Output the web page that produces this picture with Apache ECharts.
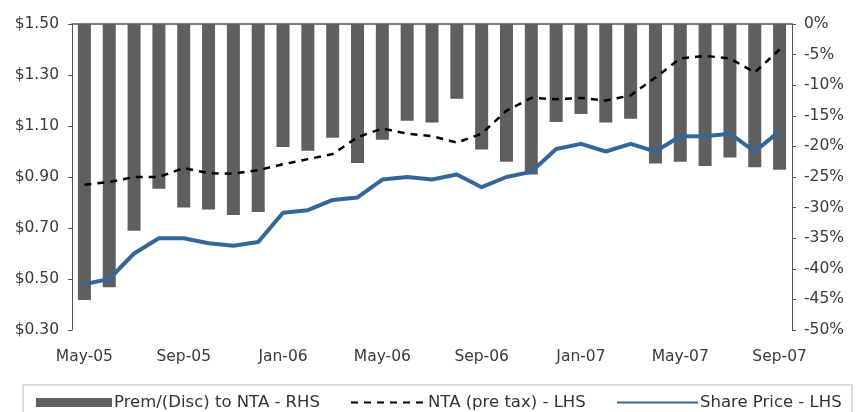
<!DOCTYPE html>
<html>
<head>
<meta charset="utf-8">
<script src="https://cdn.jsdelivr.net/npm/echarts@6/dist/echarts.min.js"></script>
<style>
  html, body { margin: 0; padding: 0; background: #fff; }
  #chart { width: 864px; height: 412px; }
</style>
</head>
<body>
<div id="chart"></div>
<script>
// monthly, May-05 .. Sep-07
var months = ['May-05', 'Jun-05', 'Jul-05', 'Aug-05', 'Sep-05', 'Oct-05', 'Nov-05', 'Dec-05',
  'Jan-06', 'Feb-06', 'Mar-06', 'Apr-06', 'May-06', 'Jun-06', 'Jul-06', 'Aug-06',
  'Sep-06', 'Oct-06', 'Nov-06', 'Dec-06', 'Jan-07', 'Feb-07', 'Mar-07', 'Apr-07',
  'May-07', 'Jun-07', 'Jul-07', 'Aug-07', 'Sep-07'];

// premium / (discount) to NTA, % (right axis)
var premDisc = [-45.1, -43.0, -33.8, -26.9, -30.0, -30.3, -31.2, -30.7,
  -20.1, -20.7, -18.6, -22.7, -18.9, -15.8, -16.1, -12.2,
  -20.5, -22.5, -24.6, -16.0, -14.7, -16.1, -15.5, -22.8,
  -22.5, -23.2, -21.8, -23.4, -23.8];

// NTA pre tax, $ (left axis)
var nta = [0.87, 0.88, 0.90, 0.90, 0.935, 0.915, 0.913, 0.927,
  0.95, 0.97, 0.99, 1.056, 1.09, 1.07, 1.06, 1.035,
  1.07, 1.16, 1.21, 1.205, 1.21, 1.20, 1.22, 1.29,
  1.365, 1.375, 1.365, 1.31, 1.40];

// share price, $ (left axis)
var sharePrice = [0.48, 0.50, 0.60, 0.66, 0.66, 0.64, 0.63, 0.645,
  0.76, 0.77, 0.81, 0.82, 0.89, 0.90, 0.89, 0.91,
  0.86, 0.90, 0.92, 1.01, 1.03, 1.00, 1.03, 1.00,
  1.06, 1.06, 1.07, 1.00, 1.08];

var font = '"DejaVu Sans", Verdana, sans-serif';

var chart = echarts.init(document.getElementById('chart'));

function legendText() {
  return { fontFamily: font, fontSize: 16.5, color: '#333', padding: [0, 0, 0, -3] };
}

var options = {
  animation: false,
  grid: { left: 72, right: 72, top: 24, bottom: 82, containLabel: false },
  xAxis: {
    type: 'category',
    data: months,
    boundaryGap: true,
    axisLine: { lineStyle: { color: '#555', width: 1.5 } },
    axisTick: { show: false },
    axisLabel: {
      interval: 3,
      margin: 19,
      color: '#3a3a3a',
      fontFamily: font,
      fontSize: 15.5
    },
    splitLine: { show: false }
  },
  yAxis: [
    {
      type: 'value',
      min: 0.3,
      max: 1.5,
      interval: 0.2,
      position: 'left',
      axisLine: { show: true, lineStyle: { color: '#555' } },
      axisTick: { show: true, length: 4, lineStyle: { color: '#555' } },
      axisLabel: {
        margin: 13,
        color: '#3a3a3a',
        fontFamily: font,
        fontSize: 15.5,
        formatter: function (v) { return '$' + v.toFixed(2); }
      },
      splitLine: { show: false }
    },
    {
      type: 'value',
      min: -50,
      max: 0,
      interval: 5,
      position: 'right',
      axisLine: { show: true, lineStyle: { color: '#555' } },
      axisTick: { show: true, length: 4, lineStyle: { color: '#555' } },
      axisLabel: {
        margin: 12,
        color: '#3a3a3a',
        fontFamily: font,
        fontSize: 15.5,
        formatter: function (v) { return Math.round(v) + '%'; }
      },
      splitLine: { show: false }
    }
  ],
  legend: [
    {
      data: [{ name: 'Prem/(Disc) to NTA - RHS', icon: 'rect' }],
      left: 31, top: 389,
      itemWidth: 76, itemHeight: 9,
      textStyle: legendText()
    },
    {
      data: ['NTA (pre tax) - LHS'],
      left: 345, top: 389,
      itemWidth: 75, itemHeight: 9,
      itemStyle: { opacity: 0 },
      textStyle: legendText()
    },
    {
      data: ['Share Price - LHS'],
      left: 611, top: 389,
      itemWidth: 81, itemHeight: 9,
      itemStyle: { opacity: 0 },
      textStyle: legendText()
    }
  ],
  graphic: [
    {
      type: 'rect',
      shape: { x: 23, y: 385, width: 829, height: 40 },
      style: { fill: 'none', stroke: '#cfcfcf', lineWidth: 1.5 },
      silent: true
    }
  ],
  series: [
    {
      name: 'Prem/(Disc) to NTA - RHS',
      type: 'bar',
      yAxisIndex: 1,
      data: premDisc,
      barWidth: 13,
      itemStyle: { color: '#5f5f5f' }
    },
    {
      name: 'NTA (pre tax) - LHS',
      type: 'line',
      yAxisIndex: 0,
      data: nta,
      symbol: 'none',
      itemStyle: { color: '#000' },
      lineStyle: { color: '#000', width: 2.5, type: [7, 6] }
    },
    {
      name: 'Share Price - LHS',
      type: 'line',
      yAxisIndex: 0,
      data: sharePrice,
      symbol: 'none',
      itemStyle: { color: '#336699' },
      lineStyle: { color: '#336699', width: 4, join: 'round' }
    }
  ]
};

chart.setOption(options);
</script>
</body>
</html>
